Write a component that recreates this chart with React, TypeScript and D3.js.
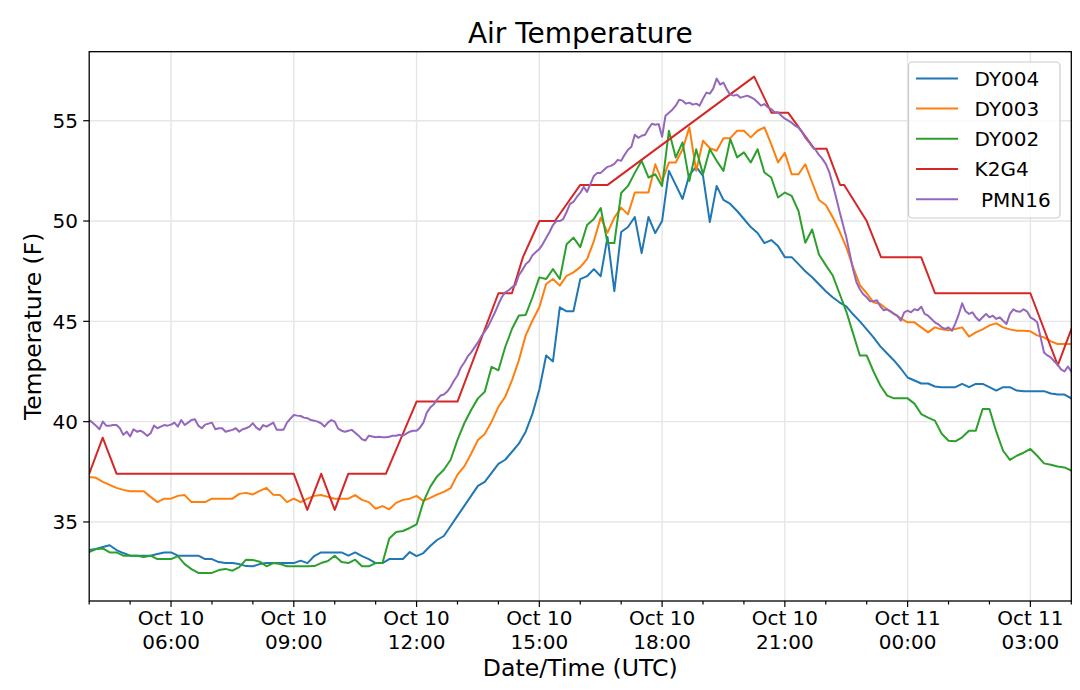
import React from 'react';
import * as d3 from 'd3';

// ---------- data ----------
const START = Date.UTC(2019, 9, 10, 4, 0);
const END = Date.UTC(2019, 9, 11, 4, 0);
const DY_STEP_MIN = 10;
const PMN_STEP_MIN = 5;

// DY004, 10-minute readings from Oct 10 04:00 UTC
const dy004 = [
  33.6, 33.65, 33.75, 33.84, 33.6, 33.45,
  33.32, 33.32, 33.32, 33.32, 33.4, 33.48,
  33.48, 33.32, 33.32, 33.32, 33.32, 33.15,
  33.15, 33.0, 32.95, 32.95, 32.9, 32.8,
  32.79, 32.9, 32.95, 32.95, 32.95, 32.95,
  32.95, 33.07, 32.95, 33.3, 33.48, 33.48,
  33.48, 33.48, 33.32, 33.48, 33.3, 33.15,
  32.95, 32.95, 33.15, 33.15, 33.15, 33.5,
  33.3, 33.45, 33.8, 34.1, 34.3, 34.8,
  35.3, 35.8, 36.3, 36.8, 37.0, 37.45,
  37.9, 38.1, 38.5, 38.9, 39.5, 40.4,
  41.6, 43.3, 43.0, 45.7, 45.5, 45.5,
  47.1, 47.25, 47.6, 47.25, 49.2, 46.5,
  49.45, 49.7, 50.2, 48.4, 50.2, 49.4,
  50.0, 52.5, 51.8, 51.1, 52.3, 52.7,
  52.25, 49.95, 51.75, 51.05, 50.85, 50.5,
  50.1, 49.7, 49.4, 48.9, 49.05, 48.75,
  48.2, 48.2, 47.85, 47.5, 47.2, 46.85,
  46.5, 46.2, 45.95, 45.75, 45.35, 45.0,
  44.6, 44.2, 43.75, 43.4, 43.05, 42.65,
  42.2, 42.05, 41.9, 41.9, 41.75, 41.72,
  41.72, 41.72, 41.88, 41.72, 41.88, 41.88,
  41.72, 41.55, 41.72, 41.72, 41.55, 41.52,
  41.52, 41.52, 41.52, 41.4, 41.35, 41.35,
  41.16,
];

// DY003, 10-minute readings
const dy003 = [
  37.24, 37.2, 37.0, 36.85, 36.7, 36.6,
  36.53, 36.53, 36.53, 36.25, 35.99, 36.16,
  36.16, 36.3, 36.34, 35.99, 35.99, 35.99,
  36.16, 36.16, 36.16, 36.16, 36.4, 36.45,
  36.37, 36.55, 36.7, 36.35, 36.34, 35.99,
  36.16, 35.99, 36.16, 36.3, 36.34, 36.25,
  36.16, 36.16, 36.16, 36.34, 36.1, 35.99,
  35.66, 35.79, 35.63, 35.95, 36.1, 36.16,
  36.3, 36.05, 36.2, 36.36, 36.5, 36.69,
  37.36, 37.77, 38.4, 39.09, 39.39, 40.0,
  40.74, 41.24, 42.07, 43.06, 44.3, 45.04,
  45.7, 46.86, 47.11, 46.78, 47.27, 47.44,
  47.7, 48.1, 49.0, 50.17, 49.42, 50.17,
  50.67, 50.33, 51.42, 51.42, 51.42, 52.83,
  51.97, 52.92, 52.92, 53.58, 54.67, 52.5,
  54.0, 53.63, 53.5, 54.13, 54.13, 54.5,
  54.5, 54.17, 54.5, 54.67, 53.83, 52.92,
  53.4, 52.33, 52.33, 52.83, 51.92, 51.05,
  50.8, 50.2, 49.5, 48.7, 47.7, 46.8,
  46.4, 45.95, 45.86, 45.6, 45.37, 45.15,
  44.95, 44.95, 44.7, 44.45, 44.7, 44.6,
  44.55, 44.62, 44.7, 44.24, 44.45, 44.6,
  44.8, 44.9, 44.7, 44.6, 44.53, 44.53,
  44.5, 44.3, 44.2, 44.0, 43.87, 43.87,
  43.87,
];

// DY002, 10-minute readings
const dy002 = [
  33.5, 33.65, 33.68, 33.48, 33.48, 33.32,
  33.32, 33.32, 33.25, 33.32, 33.15, 33.15,
  33.15, 33.3, 32.9, 32.65, 32.46, 32.46,
  32.46, 32.6, 32.66, 32.57, 32.75, 33.12,
  33.1, 33.02, 32.79, 32.95, 32.9, 32.79,
  32.79, 32.79, 32.79, 32.8, 32.95, 33.05,
  33.32, 33.0, 32.95, 33.12, 32.79, 32.79,
  32.95, 32.95, 34.18, 34.5, 34.55, 34.7,
  34.88, 36.0, 36.75, 37.27, 37.6, 38.1,
  39.09, 39.92, 40.58, 41.16, 41.49, 42.73,
  42.56, 43.72, 44.63, 45.29, 45.32, 46.2,
  47.19, 47.11, 47.6, 47.11, 48.84, 49.17,
  48.7, 49.8, 50.1, 50.65, 48.9, 48.9,
  51.4, 51.75, 52.4, 53.0, 52.17, 52.33,
  51.75, 54.5, 53.17, 53.92, 52.0, 53.58,
  52.33, 53.58, 53.0, 52.5, 54.08, 53.17,
  53.42, 52.92, 53.58, 52.42, 52.17, 51.17,
  51.42, 51.25, 50.5, 48.92, 49.58, 48.33,
  47.8, 47.3, 46.4, 45.5, 44.4, 43.3,
  43.3, 42.5, 41.8, 41.3, 41.16, 41.16,
  41.16, 40.9, 40.38, 40.2, 40.05, 39.4,
  39.05, 39.02, 39.22, 39.55, 39.55, 40.63,
  40.63, 39.5, 38.55, 38.09, 38.3, 38.45,
  38.64, 38.3, 37.92, 37.85, 37.76, 37.72,
  37.56,
];

// K2G4 reports: hours since Oct 10 00:00 UTC, and temperature
const k2g4Hours = [
  4.0, 4.33, 4.67, 9.0, 9.33, 9.67, 10.0, 10.33, 11.25, 12.0, 13.0, 14.0,
  14.33, 14.6, 15.0, 15.38, 16.0, 16.67, 20.25, 20.67, 21.08, 21.72, 22.02,
  22.35, 22.45, 23.0, 23.35, 24.33, 24.67, 27.0, 27.67, 28.0,
];
const k2g4Values = [
  37.4, 39.2, 37.4, 37.4, 35.6, 37.4, 35.6, 37.4, 37.4, 41.0, 41.0, 46.4,
  46.4, 48.2, 50.0, 50.0, 51.8, 51.8, 57.2, 55.4, 55.4, 53.6, 53.6,
  51.8, 51.8, 50.0, 48.2, 48.2, 46.4, 46.4, 42.8, 44.6,
];

// PMN16, 5-minute readings
const pmn16 = [
  40.08, 39.95, 39.8, 39.62, 40.0, 39.8, 39.8, 39.83, 39.83, 39.67, 39.34, 39.5,
  39.26, 39.62, 39.5, 39.55, 39.45, 39.29, 39.42, 39.8, 39.67, 39.75, 39.83, 39.8,
  39.85, 39.95, 39.75, 40.08, 39.83, 39.95, 40.08, 40.12, 39.8, 39.67, 39.85, 39.9,
  39.95, 39.62, 39.67, 39.67, 39.5, 39.55, 39.59, 39.67, 39.5, 39.62, 39.67, 39.75,
  39.92, 39.7, 39.59, 39.83, 39.75, 39.85, 39.95, 39.59, 39.59, 39.6, 39.95, 40.15,
  40.33, 40.3, 40.28, 40.2, 40.17, 40.08, 40.05, 40.0, 39.92, 39.75, 39.95, 40.08,
  40.0, 39.65, 39.55, 39.5, 39.55, 39.59, 39.45, 39.3, 39.12, 39.06, 39.3, 39.26,
  39.22, 39.25, 39.22, 39.22, 39.25, 39.3, 39.3, 39.35, 39.3, 39.4, 39.5, 39.55,
  39.55, 39.7, 39.95, 40.45, 40.7, 40.85, 41.1, 41.3, 41.35, 41.5, 41.74, 42.05,
  42.3, 42.7, 42.95, 43.25, 43.45, 43.7, 43.95, 44.25, 44.5, 44.75, 45.1, 45.45,
  45.85, 46.2, 46.45, 46.55, 46.7, 46.8, 47.3, 47.55, 47.85, 48.0, 48.3, 48.45,
  48.6, 48.85, 49.15, 49.45, 49.8, 50.0, 50.0, 50.1, 50.45, 50.85, 50.95, 51.2,
  51.4, 51.7, 51.45, 51.85, 52.25, 52.4, 52.4, 52.55, 52.7, 52.75, 52.85, 53.05,
  53.0, 53.3, 53.55, 53.7, 54.3, 54.15, 54.25, 54.3, 54.6, 54.85, 54.8, 54.83,
  54.2, 55.25, 55.4, 55.55, 55.75, 56.05, 56.0, 55.85, 55.9, 55.8, 55.85, 55.75,
  56.1, 56.4, 56.35, 56.6, 57.1, 56.8, 56.9, 56.55, 56.3, 56.25, 56.3, 56.15,
  56.2, 56.25, 56.17, 56.08, 55.92, 55.75, 55.83, 55.67, 55.58, 55.42, 55.42, 55.25,
  55.1, 55.0, 54.9, 54.75, 54.65, 54.45, 54.15, 53.95, 53.7, 53.55, 53.3, 53.1,
  52.85, 52.45, 51.85, 51.2, 50.5, 49.85, 49.2, 48.4, 47.6, 46.95, 46.6, 46.35,
  46.2, 46.0, 46.0, 46.05, 45.75, 45.55, 45.6, 45.5, 45.37, 45.28, 45.03, 45.45,
  45.53, 45.45, 45.6, 45.55, 45.73, 45.37, 45.28, 45.12, 44.95, 44.85, 44.7, 44.62,
  44.7, 44.53, 44.9, 45.35, 45.9, 45.5, 45.37, 45.45, 45.2, 45.03, 45.2, 45.37,
  45.2, 45.28, 45.12, 45.2, 45.03, 44.87, 45.37, 45.6, 45.5, 45.48, 45.6, 45.5,
  45.2, 45.1, 44.95, 44.2, 43.45, 43.3, 43.2, 43.0, 42.85, 42.6, 42.5, 42.75,
  42.5,
];

const seriesNames = ['DY004', 'DY003', 'DY002', 'K2G4', ' PMN16'];
const seriesColors = ['#1f77b4', '#ff7f0e', '#2ca02c', '#d62728', '#9467bd'];
const yTickValues = [35, 40, 45, 50, 55];
const titleText = 'Air Temperature';
const xLabelText = 'Date/Time (UTC)';
const yLabelText = 'Temperature (F)';

// ---------- helpers ----------
type Pt = { t: Date; v: number };
const regular = (vals: number[], stepMin: number): Pt[] =>
  vals.map((v, i) => ({ t: new Date(START + i * stepMin * 60000), v }));
const byHours = (hours: number[], vals: number[]): Pt[] =>
  hours.map((h, i) => ({ t: new Date(Date.UTC(2019, 9, 10) + h * 3600000), v: vals[i] }));

const W = 1080;
const H = 690;
const L = 89.2;
const R = 1071.3;
const T = 51.7;
const B = 601;
const FONT = "'DejaVu Sans', Verdana, sans-serif";

export default function App() {
  const x = d3.scaleUtc().domain([new Date(START), new Date(END)]).range([L, R]);
  const y = d3.scaleLinear().domain([31.06, 58.44]).range([B, T]);

  const series: Pt[][] = [
    regular(dy004, DY_STEP_MIN),
    regular(dy003, DY_STEP_MIN),
    regular(dy002, DY_STEP_MIN),
    byHours(k2g4Hours, k2g4Values),
    regular(pmn16, PMN_STEP_MIN),
  ];

  const line = d3
    .line<Pt>()
    .x((d) => x(d.t))
    .y((d) => y(d.v));

  const majors = x.ticks(d3.utcHour.every(3) as any);
  const majorSet = new Set(majors.map((d) => +d));
  const minors = x.ticks(d3.utcHour.every(1) as any).filter((d) => !majorSet.has(+d));
  const fmtDay = d3.utcFormat('%b %d');
  const fmtTime = d3.utcFormat('%H:%M');

  const legendX = 908.5;
  const legendY = 62;
  const rowStep = 30.2;

  return (
    <div style={{ position: 'absolute', left: 0, top: 0 }}>
      <svg width={W} height={H} style={{ display: 'block', background: '#fff' }} fontFamily={FONT}>
        <defs>
          <clipPath id="plot">
            <rect x={L} y={T} width={R - L} height={B - T} />
          </clipPath>
        </defs>
        <rect x={0} y={0} width={W} height={H} fill="#fff" />
        {/* grid */}
        <g stroke="#e6e6e6" strokeWidth={1.4}>
          {majors.map((d) => (
            <line key={'gx' + +d} x1={x(d)} x2={x(d)} y1={T} y2={B} />
          ))}
          {yTickValues.map((v) => (
            <line key={'gy' + v} x1={L} x2={R} y1={y(v)} y2={y(v)} />
          ))}
        </g>
        {/* series */}
        <g clipPath="url(#plot)" fill="none" strokeWidth={2} strokeLinejoin="round" strokeLinecap="square">
          {series.map((s, i) => (
            <path key={seriesNames[i]} d={line(s) || ''} stroke={seriesColors[i]} />
          ))}
        </g>
        {/* frame */}
        <rect x={L} y={T} width={R - L} height={B - T} fill="none" stroke="#000" strokeWidth={1.3} />
        {/* ticks */}
        <g stroke="#000" strokeWidth={1.2}>
          {majors.map((d) => (
            <line key={'tx' + +d} x1={x(d)} x2={x(d)} y1={B} y2={B + 6} />
          ))}
          {minors.map((d) => (
            <line key={'mx' + +d} x1={x(d)} x2={x(d)} y1={B} y2={B + 3.5} />
          ))}
          {yTickValues.map((v) => (
            <line key={'ty' + v} x1={L - 6} x2={L} y1={y(v)} y2={y(v)} />
          ))}
        </g>
        <g fontSize={20} fill="#000">
          {majors.map((d) => (
            <text key={'lx' + +d} x={x(d)} textAnchor="middle">
              <tspan x={x(d)} y={625.3}>{fmtDay(d)}</tspan>
              <tspan x={x(d)} y={649.3}>{fmtTime(d)}</tspan>
            </text>
          ))}
          {yTickValues.map((v) => (
            <text key={'ly' + v} x={78} y={y(v) + 7.3} textAnchor="end">
              {v}
            </text>
          ))}
        </g>
        {/* titles */}
        <text x={(L + R) / 2} y={43.3} textAnchor="middle" fontSize={28}>
          {titleText}
        </text>
        <text x={(L + R) / 2} y={676} textAnchor="middle" fontSize={23.6}>
          {xLabelText}
        </text>
        <text
          transform={`translate(40.5, ${(T + B) / 2}) rotate(-90)`}
          textAnchor="middle"
          fontSize={23.4}
        >
          {yLabelText}
        </text>
        {/* legend */}
        <rect
          x={legendX}
          y={legendY}
          width={151.5}
          height={156}
          rx={4}
          fill="#fff"
          fillOpacity={0.8}
          stroke="#cccccc"
          strokeWidth={1.2}
        />
        {seriesNames.map((name, i) => {
          const cy = 78.4 + i * rowStep;
          return (
            <g key={'lg' + i}>
              <line x1={916} x2={958} y1={cy} y2={cy} stroke={seriesColors[i]} strokeWidth={2} />
              <text x={974.6} y={cy + 7.3} fontSize={20} style={{ whiteSpace: 'pre' }}>
                {name}
              </text>
            </g>
          );
        })}
      </svg>
    </div>
  );
}
